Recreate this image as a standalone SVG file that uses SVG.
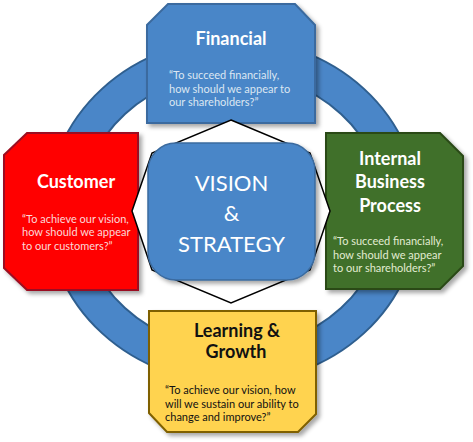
<svg xmlns="http://www.w3.org/2000/svg" width="473" height="442" viewBox="0 0 473 442">
<defs>
<filter id="sh" x="-10%" y="-10%" width="130%" height="130%">
<feDropShadow dx="3" dy="3" stdDeviation="2" flood-color="#000" flood-opacity="0.35"/>
</filter>
</defs>
<style>
.box{stroke-width:2;filter:url(#sh);stroke-linejoin:miter}
.title{font-family:Lato,"Open Sans","Liberation Sans",sans-serif;font-weight:bold;font-size:18px;text-anchor:middle}
.q{font-family:Lato,"Open Sans","Liberation Sans",sans-serif;font-size:11px}
.vs{font-family:Lato,"Open Sans","Liberation Sans",sans-serif;font-size:22px;fill:#fff;text-anchor:middle}
</style>
<rect width="473" height="442" fill="#fff"/>
<g id="connectors">
<g id="ring">
<ellipse cx="233" cy="211" rx="169" ry="155" fill="none" stroke="#2f5f8f" stroke-width="36"/>
<ellipse cx="233" cy="211" rx="169" ry="155" fill="none" stroke="#4a86c8" stroke-width="32"/>
</g>
</g>
<g id="financial">
<path class="box" d="M168,4 L295,4 L315,25 L315,123 L147,123 L147,25 Z" fill="#4a86c8" stroke="#3a6b9f"/>
<text class="title" x="231" y="45" fill="#fff">Financial</text>
<text class="q" fill="#dce6f2"><tspan x="169" y="79">“To succeed financially,</tspan><tspan x="169" y="92.5">how should we appear to</tspan><tspan x="169" y="106">our shareholders?”</tspan></text>
</g>
<g id="customer">
<path class="box" d="M27,133 L138,133 L138,290 L27,290 L4,268 L4,155 Z" fill="#ff0000" stroke="#9b1020"/>
<text class="title" x="76" y="188" fill="#fff">Customer</text>
<text class="q" fill="#fcd8d8"><tspan x="22" y="223">“To achieve our vision,</tspan><tspan x="22" y="236">how should we appear</tspan><tspan x="22" y="249.5">to our customers?”</tspan></text>
</g>
<g id="internal">
<path class="box" d="M326,133 L440,133 L463,156 L463,266 L440,289 L326,289 Z" fill="#41702a" stroke="#2a4a18"/>
<text class="title" fill="#fff"><tspan x="390" y="165">Internal</tspan><tspan x="390" y="188">Business</tspan><tspan x="390" y="212">Process</tspan></text>
<text class="q" fill="#e2ecd2"><tspan x="333" y="245">“To succeed financially,</tspan><tspan x="333" y="258.5">how should we appear</tspan><tspan x="333" y="272">to our shareholders?”</tspan></text>
</g>
<g id="learning">
<path class="box" d="M149,311 L316,311 L316,414 L298,432 L167,432 L149,413 Z" fill="#ffd350" stroke="#7f6000"/>
<text class="title" fill="#111"><tspan x="237" y="337">Learning &amp;</tspan><tspan x="236" y="358">Growth</tspan></text>
<text class="q" fill="#111"><tspan x="165" y="394">“To achieve our vision, how</tspan><tspan x="165" y="407.5">will we sustain our ability to</tspan><tspan x="165" y="421">change and improve?”</tspan></text>
</g>
<g id="vision">
<polygon points="231,120 310,153 330,211 310,270 231,303 152,270 132,211 152,153" fill="#fff" stroke="#000" stroke-width="1.5"/>
<rect x="148" y="143" width="167" height="137" rx="28" fill="#4a86c8" stroke="#3a6b9f" stroke-width="1.5" filter="url(#sh)"/>
<text class="vs"><tspan x="231.5" y="191">VISION</tspan><tspan x="231.5" y="221">&amp;</tspan><tspan x="231.5" y="252">STRATEGY</tspan></text>
</g>
</svg>
